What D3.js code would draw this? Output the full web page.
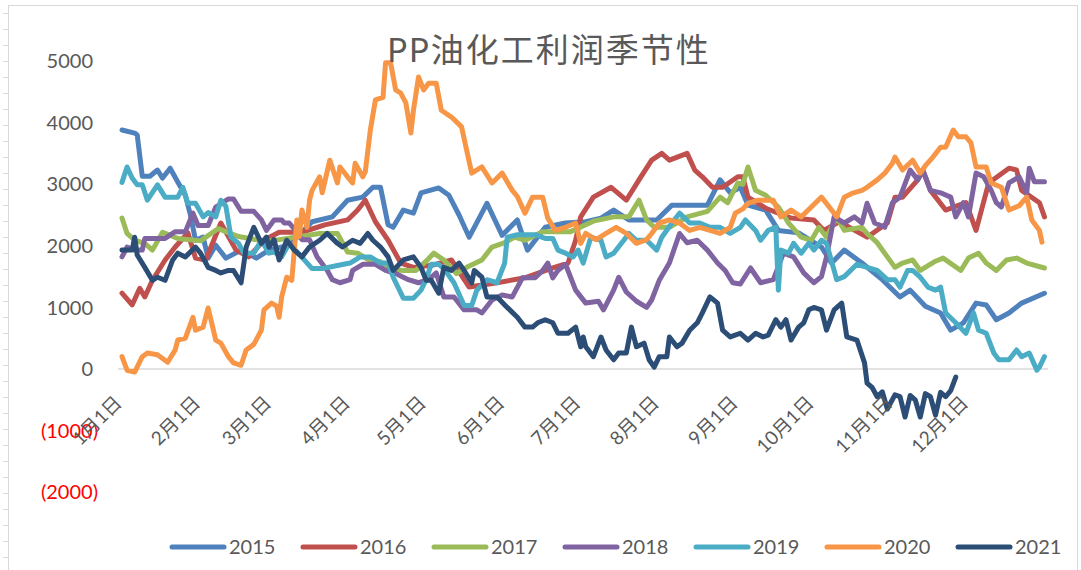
<!DOCTYPE html>
<html>
<head>
<meta charset="utf-8">
<script src="https://cdn.jsdelivr.net/npm/d3@7"></script>
<style>
  body { margin: 0; background: #fff; }
  svg { display: block; font-family: Lato, "Noto Sans CJK SC", sans-serif; }
</style>
</head>
<body>
<svg class="chart"></svg>
<script>
const width = 1081, height = 570

const title = "PP油化工利润季节性"
const years = ["2015","2016","2017","2018","2019","2020","2021"]
const colors = ["#4F81BD","#C0504D","#9BBB59","#8064A2","#4BACC6","#F79646","#2C4D75"]
const monthLabels = ["1月1日","2月1日","3月1日","4月1日","5月1日","6月1日","7月1日","8月1日","9月1日","10月1日","11月1日","12月1日"]
const monthDays = [0,31,59,90,120,151,181,212,243,273,304,334] // day of year of each month start
const yTicks = [5000,4000,3000,2000,1000,0,-1000,-2000]

// [day of year, profit]
const d2015 = [[0,3880],[5,3830],[6,3800],[8,3130],[11,3130],[14,3230],[16,3100],[19,3260],[22,3035],[25,2820],[27,2500],[29,2090],[32,2140],[34,1800],[37,2010],[41,1800],[47,1930],[53,1800],[58,1930],[66,2010],[75,2390],[83,2470],[89,2740],[95,2790],[99,2950],[102,2950],[105,2340],[107,2300],[111,2580],[115,2530],[118,2860],[125,2940],[129,2820],[133,2500],[137,2140],[144,2690],[150,2170],[156,2420],[160,1930],[167,2300],[175,2370],[183,2390],[189,2450],[194,2580],[200,2420],[211,2420],[217,2660],[224,2660],[231,2660],[236,3070],[240,2860],[244,2950],[247,2660],[254,2580],[259,2250],[267,2210],[276,1980],[280,1720],[285,1930],[292,1720],[300,1450],[307,1170],[311,1280],[317,1020],[323,910],[327,630],[332,750],[337,1070],[341,1040],[345,800],[350,910],[355,1070],[364,1230]]
const d2016 = [[0,1230],[4,1040],[7,1310],[9,1170],[12,1440],[17,1770],[21,1980],[26,2210],[29,1800],[33,1770],[39,2370],[45,1930],[50,1820],[56,2090],[62,2220],[71,2220],[80,2340],[89,2420],[93,2580],[96,2740],[100,2390],[105,2090],[110,1720],[115,1650],[123,1690],[130,1770],[137,1330],[148,1400],[159,1480],[170,1640],[176,1720],[179,2090],[181,2470],[186,2790],[193,2950],[199,2740],[204,3070],[209,3390],[213,3500],[216,3390],[223,3500],[226,3230],[229,3120],[233,2950],[237,2950],[243,3120],[245,3120],[247,2790],[254,2610],[264,2450],[273,2420],[277,2250],[283,2390],[294,2140],[302,2370],[305,2790],[308,2790],[314,3070],[316,3230],[319,2900],[325,2580],[333,2700],[337,2250],[342,3020],[350,3260],[353,3230],[355,2900],[362,2700],[364,2470]]
const d2017 = [[0,2450],[2,2200],[5,2090],[9,2040],[12,1930],[16,2220],[22,2120],[31,2080],[38,2280],[46,2150],[57,2070],[62,2100],[78,2200],[85,2200],[89,1900],[93,1880],[97,1780],[102,1740],[106,1620],[111,1600],[116,1600],[120,1750],[123,1880],[127,1770],[132,1550],[136,1650],[142,1770],[146,1980],[151,2050],[155,2140],[159,2090],[166,2230],[177,2230],[186,2400],[194,2470],[200,2470],[204,2740],[207,2420],[210,2300],[216,2300],[223,2470],[231,2560],[236,2790],[239,2700],[243,3020],[245,3000],[247,3280],[250,2900],[254,2820],[259,2630],[263,2370],[268,2140],[272,2090],[275,2300],[278,2140],[282,2470],[285,2250],[292,2300],[294,2200],[298,2050],[302,1820],[305,1650],[308,1720],[312,1770],[315,1600],[321,1750],[324,1800],[331,1600],[334,1800],[338,1880],[341,1720],[345,1600],[349,1770],[353,1800],[357,1720],[364,1640]]
const d2018 = [[0,1820],[2,1980],[5,1930],[8,1930],[9,2120],[17,2120],[21,2230],[25,2230],[28,2530],[30,2330],[34,2330],[37,2630],[42,2760],[44,2760],[47,2560],[52,2560],[55,2420],[57,2250],[60,2420],[63,2420],[64,2370],[66,2370],[69,2220],[71,2100],[74,2100],[77,1820],[81,1600],[83,1450],[86,1400],[90,1450],[91,1600],[95,1700],[100,1700],[104,1600],[108,1550],[113,1450],[117,1400],[121,1450],[124,1560],[127,1170],[131,1170],[135,960],[140,960],[142,910],[146,1120],[150,1200],[154,1170],[158,1480],[163,1480],[166,1600],[168,1720],[170,1480],[172,1600],[175,1700],[179,1280],[183,1070],[188,1100],[190,960],[194,1280],[196,1490],[199,1250],[203,1100],[207,1000],[209,1120],[212,1440],[216,1720],[220,2200],[223,2050],[227,2090],[231,1930],[235,1720],[238,1600],[241,1400],[244,1380],[248,1640],[252,1400],[257,1450],[261,1880],[265,1820],[269,1560],[273,1400],[276,1500],[278,1820],[281,2470],[285,2370],[289,2470],[292,2370],[294,2690],[297,2370],[301,2300],[304,2700],[307,2790],[311,3230],[314,3070],[316,3230],[319,2900],[323,2860],[327,2790],[329,2470],[332,2700],[334,2470],[337,3180],[340,3120],[343,2900],[345,2700],[347,2630],[350,3020],[354,3120],[357,2860],[358,3260],[360,3040],[364,3040]]
const d2019 = [[0,3030],[2,3280],[4,3100],[6,2990],[8,2990],[10,2740],[14,2990],[17,2790],[22,2790],[24,2950],[26,2690],[29,2690],[32,2470],[34,2540],[37,2470],[39,2740],[41,2640],[43,2140],[46,2040],[48,1880],[52,1880],[55,2090],[58,1880],[60,1900],[63,1820],[66,2040],[70,1860],[75,1630],[79,1630],[85,1680],[90,1720],[94,1820],[98,1820],[102,1720],[105,1720],[107,1490],[111,1150],[115,1150],[118,1280],[120,1450],[122,1700],[125,1700],[127,1630],[131,1400],[135,1030],[138,1030],[140,1280],[144,1450],[148,1400],[151,1720],[152,2140],[156,2180],[163,2180],[167,2120],[170,2120],[172,1930],[175,1880],[178,1820],[180,1930],[182,1720],[185,2140],[189,2090],[191,1820],[194,1880],[198,2090],[200,2200],[203,2090],[207,2090],[211,1930],[213,2140],[217,2370],[220,2530],[224,2370],[228,2370],[232,2300],[236,2300],[240,2200],[244,2300],[246,2420],[250,2250],[252,2090],[255,2250],[258,2300],[259,1280],[260,1930],[263,1880],[265,2040],[268,1880],[271,2040],[273,1930],[276,2090],[278,2040],[281,1600],[282,1450],[285,1500],[290,1700],[294,1650],[298,1600],[302,1450],[305,1450],[307,1330],[310,1600],[312,1600],[315,1490],[318,1330],[321,1280],[323,1330],[325,910],[329,750],[333,580],[336,910],[338,630],[341,580],[344,260],[346,150],[350,150],[353,310],[355,200],[358,260],[361,-20],[362,30],[364,200]]
const d2020 = [[0,200],[2,-20],[5,-50],[8,200],[10,260],[14,230],[18,110],[21,310],[22,470],[25,500],[28,840],[29,630],[32,680],[34,990],[37,470],[39,420],[42,200],[44,100],[47,60],[49,310],[52,400],[55,630],[56,960],[59,1070],[61,1020],[62,840],[63,1170],[65,1490],[67,1440],[69,2420],[70,2150],[71,2580],[73,2300],[74,2740],[75,2900],[78,3120],[79,2860],[82,3390],[85,3020],[86,3280],[89,3120],[91,3020],[92,3340],[95,3120],[96,3200],[98,3880],[100,4370],[103,4410],[104,4970],[106,4970],[108,4530],[110,4480],[112,4320],[114,3830],[115,4200],[117,4740],[119,4530],[121,4640],[124,4640],[126,4200],[130,4090],[134,3930],[136,3550],[138,3180],[142,3280],[146,3020],[150,3180],[154,2900],[156,2800],[159,2530],[162,2790],[166,2790],[168,2450],[171,2250],[175,2300],[179,2370],[181,2040],[183,2200],[187,2100],[191,2200],[195,2300],[199,2200],[203,2040],[207,2100],[209,2200],[212,2370],[216,2420],[220,2370],[224,2250],[228,2300],[232,2250],[236,2200],[240,2300],[242,2530],[245,2600],[247,2690],[251,2740],[255,2740],[257,2740],[260,2470],[264,2580],[268,2470],[272,2630],[276,2790],[280,2580],[282,2470],[285,2790],[288,2850],[292,2900],[294,2950],[298,3070],[301,3180],[304,3340],[305,3440],[308,3230],[312,3390],[315,3180],[317,3300],[320,3440],[323,3600],[325,3600],[328,3880],[330,3770],[333,3770],[335,3670],[337,3280],[341,3280],[343,3020],[347,2950],[350,2580],[354,2650],[357,2790],[359,2420],[362,2250],[363,2060]]
const d2021 = [[0,1930],[4,1930],[5,2140],[6,1850],[9,1650],[12,1440],[14,1490],[17,1440],[20,1770],[22,1880],[25,1820],[29,1980],[31,1880],[34,1650],[37,1600],[39,1560],[42,1600],[44,1600],[47,1400],[49,1980],[52,2300],[55,2040],[57,2140],[58,1980],[60,2100],[62,1770],[65,2090],[68,1930],[71,1820],[74,1980],[78,2090],[81,2200],[85,2040],[87,1980],[91,2090],[94,2040],[97,2200],[99,2090],[102,1980],[105,1820],[107,1600],[111,1770],[115,1820],[118,1650],[120,1440],[122,1440],[125,1230],[127,1650],[130,1600],[133,1720],[135,1600],[138,1400],[139,1600],[142,1490],[144,1170],[148,1170],[152,1000],[156,840],[159,680],[162,680],[164,750],[167,800],[170,750],[172,580],[176,580],[179,680],[181,360],[182,520],[183,360],[186,200],[189,520],[191,310],[194,150],[196,260],[199,260],[201,680],[203,360],[206,420],[208,150],[210,30],[212,200],[215,200],[216,520],[219,360],[221,420],[224,630],[227,750],[229,910],[232,1170],[235,1070],[237,630],[240,520],[244,580],[247,470],[250,580],[253,520],[255,550],[258,800],[260,680],[262,800],[264,470],[267,680],[269,750],[271,960],[273,1000],[276,960],[278,630],[281,960],[284,1070],[286,520],[290,470],[293,100],[294,-230],[296,-300],[298,-450],[300,-370],[302,-650],[305,-420],[307,-450],[309,-780],[311,-430],[313,-500],[315,-780],[317,-400],[319,-450],[321,-750],[323,-380],[325,-450],[327,-350],[329,-130]]

const seriesData = [d2015,d2016,d2017,d2018,d2019,d2020,d2021]

let x = d3.scaleLinear()//day of year
    .domain([0,365])
    .range([122,1047]);
let y = d3.scaleLinear()
    .domain([-2000,5000])
    .range([492.2,61]);

let svg = d3.select(".chart")
    .attr("width", width)
    .attr("height", height);

svg.append("rect")//white bg
    .attr("width", width).attr("height", height).attr("fill","#fff")

//excel sheet border and row marks on the left
svg.append("rect")
    .attr("x",8.5).attr("y",5.5)
    .attr("width",1069).attr("height",600)
    .attr("fill","none").attr("stroke","#d9d9d9")
svg.selectAll(".rowmark")
    .data(d3.range(13.5,570,16))
    .enter().append("line")
    .attr("x1",3).attr("x2",8)
    .attr("y1",d=>d).attr("y2",d=>d)
    .attr("stroke","#d9d9d9")

//zero line
svg.append("line")
    .attr("x1",118).attr("x2",1048)
    .attr("y1",y(0)).attr("y2",y(0))
    .attr("stroke","#d9d9d9")
    .attr("stroke-width",1.5)

//y labels, negatives red in brackets
svg.selectAll(".ylab")
    .data(yTicks)
    .enter().append("text")
    .attr("x",d=> d<0 ? 98 : 93)
    .attr("y",d=>y(d))
    .attr("dy","0.36em")
    .attr("text-anchor","end")
    .style("font-size","20px")
    .style("fill",d=> d<0 ? "#ff0000" : "#595959")
    .text(d=> d<0 ? "(" + (-d) + ")" : d)

//line series
let line = d3.line()
    .x(d=>x(d[0]))
    .y(d=>y(d[1]));
seriesData.forEach((data,i)=>{
  svg.append("path")
    .datum(data)
    .attr("d",line)
    .attr("fill","none")
    .attr("stroke",colors[i])
    .attr("stroke-width",5)
    .attr("stroke-linejoin","round")
    .attr("stroke-linecap","round")
})

//month labels on the x axis, rotated
svg.selectAll(".xlab")
    .data(monthDays)
    .enter().append("text")
    .attr("transform",d=>"translate(" + (x(d)+1) + ",404) rotate(-45)")
    .attr("text-anchor","end")
    .style("font-size","19px")
    .style("fill","#595959")
    .text((d,i)=>monthLabels[i])

//title
svg.append("text")
    .attr("x",549)
    .attr("y",62)
    .attr("text-anchor","middle")
    .style("font-size","33px")
    .style("letter-spacing","2px")
    .style("fill","#595959")
    .text(title)

//legend
let legend = svg.selectAll(".legend")
    .data(years)
    .enter().append("g")
    .attr("transform",(d,i)=>"translate(" + (172 + i*131) + ",547)")
legend.append("line")
    .attr("x1",0).attr("x2",52)
    .attr("stroke",(d,i)=>colors[i])
    .attr("stroke-width",5)
    .attr("stroke-linecap","round")
legend.append("text")
    .attr("x",57)
    .attr("dy","0.36em")
    .style("font-size","20px")
    .style("fill","#595959")
    .text(d=>d)
</script>
</body>
</html>
